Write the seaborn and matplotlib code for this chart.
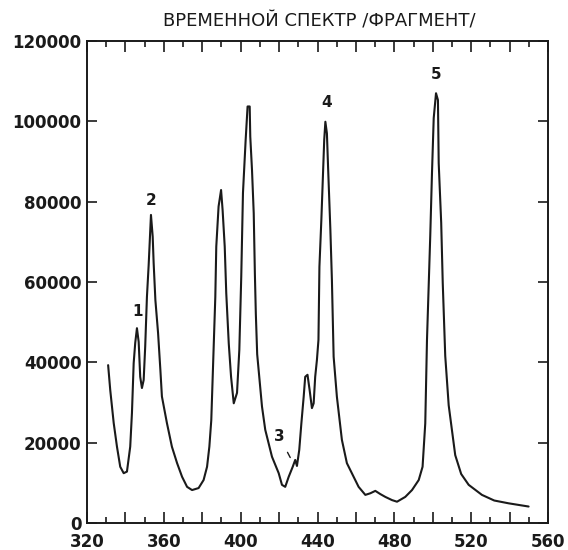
import matplotlib
matplotlib.use("Agg")
import matplotlib.pyplot as plt
from matplotlib.ticker import MultipleLocator, FuncFormatter
import seaborn as sns
import pandas as pd

# ---- data ----
wavelength = [
    331.0, 332.1, 333.9, 335.6, 337.3, 339.1, 340.8, 342.5, 343.4, 344.3,
    345.1, 346.0, 346.9, 347.7, 348.6, 349.5, 350.3, 351.2, 352.1, 353.3,
    354.2, 354.7, 355.6, 357.0, 358.2, 359.0, 361.6, 364.2, 366.9, 369.5,
    372.1, 374.7, 378.1, 380.7, 382.5, 383.7, 384.7, 385.4, 386.3, 386.8,
    387.3, 388.5, 389.8, 390.6, 391.7, 392.5, 393.8, 395.0, 396.4, 398.1,
    399.3, 400.3, 401.2, 402.2, 402.6, 403.6, 404.7, 405.0, 405.9, 406.8,
    407.4, 407.9, 408.6, 411.1, 412.8, 416.3, 419.8, 421.5, 423.2, 425.0,
    427.1, 428.4, 429.3, 430.5, 431.6, 432.8, 433.6, 434.8, 435.9, 437.1,
    438.0, 438.8, 439.7, 440.5, 441.0, 442.0, 442.7, 443.5, 444.1, 444.9,
    445.5, 446.7, 447.5, 448.4, 450.1, 452.7, 455.3, 457.9, 461.4, 464.9,
    467.5, 470.1, 472.7, 475.3, 478.8, 481.4, 485.7, 489.2, 492.7, 494.7,
    496.1, 497.0, 498.7, 499.6, 500.5, 501.7, 502.7, 503.1, 504.4, 505.2,
    506.5, 508.3, 511.7, 514.8, 518.7, 525.6, 532.0, 539.5, 549.9,
]
counts = [
    39300, 33100, 24900, 19000, 14000, 12400, 12800, 19000, 27400, 39800,
    44800, 48500, 45100, 36400, 33600, 35600, 43900, 56300, 64200, 76700,
    71300, 64700, 55500, 47300, 38100, 31500, 24900, 19000, 14900, 11500,
    9000, 8200, 8700, 10700, 14000, 19000, 25600, 35600, 48100, 56300,
    68800, 78800, 82900, 77900, 68800, 57200, 44700, 36400, 29800, 32400,
    43100, 61300, 82200, 92000, 95400, 103700, 103700, 96200, 87900, 77100,
    62000, 52000, 42000, 29000, 23200, 16500, 12400, 9500, 9000, 11500,
    14000, 15700, 14200, 18200, 24800, 31400, 36400, 36900, 33100, 28600,
    29800, 36400, 40600, 45600, 63800, 75400, 84600, 95400, 99900, 97000,
    88700, 73000, 60500, 41400, 31400, 20700, 14900, 12400, 9000, 7000,
    7400, 8000, 7200, 6500, 5700, 5300, 6500, 8200, 10700, 14000,
    24800, 45600, 71500, 87100, 100800, 107000, 105300, 89600, 74700, 59800,
    41600, 29300, 16900, 12200, 9500, 7000, 5600, 4900, 4100,
]

peak_labels = ["1", "2", "3", "4", "5"]
label_x = [346.4, 353.6, 420.1, 445.0, 501.7]
label_y = [52600, 80400, 21500, 104600, 111600]

x_ticks = [320, 360, 400, 440, 480, 520, 560]
y_ticks = [0, 20000, 40000, 60000, 80000, 100000, 120000]
title = "ВРЕМЕННОЙ СПЕКТР /ФРАГМЕНТ/"

df = pd.DataFrame({"wavelength": wavelength, "counts": counts})

sns.set_style("ticks")
plt.rcParams["font.family"] = ["DejaVu Sans"]

ink = "#1a1a1a"
fig = plt.figure(figsize=(5.68, 5.5), dpi=100)
ax = fig.add_axes([87 / 568, 27 / 550, 461 / 568, 482 / 550])

sns.lineplot(data=df, x="wavelength", y="counts", sort=False, estimator=None,
             color=ink, linewidth=1.5, ax=ax)

ax.set_xlim(320, 560)
ax.set_ylim(0, 120000)
ax.set_xlabel("")
ax.set_ylabel("")

ax.xaxis.set_major_locator(MultipleLocator(20))
ax.xaxis.set_minor_locator(MultipleLocator(10))
ax.xaxis.set_major_formatter(FuncFormatter(
    lambda v, p: f"{int(round(v))}" if int(round(v)) in x_ticks else ""))
ax.set_yticks(y_ticks)
ax.set_yticklabels([str(v) for v in y_ticks])

for s in ax.spines.values():
    s.set_visible(True)
    s.set_linewidth(1.4)
    s.set_color(ink)

ax.tick_params(axis="x", which="major", direction="in", length=8, width=1.2,
               top=True, bottom=True, pad=7, colors=ink, labelsize=12)
ax.tick_params(axis="x", which="minor", direction="in", length=4.5, width=1.2,
               top=True, bottom=True, colors=ink)
ax.tick_params(axis="y", which="major", direction="in", length=7, width=1.2,
               left=True, right=True, pad=4, colors=ink, labelsize=12)
for lab in ax.get_xticklabels() + ax.get_yticklabels():
    lab.set_fontweight("bold")

for t, lx, ly in zip(peak_labels, label_x, label_y):
    if t == "3":
        ax.annotate(t, xy=(425.8, 16300), xytext=(lx, ly), ha="center", va="center",
                    fontsize=11, fontweight="bold", color=ink,
                    arrowprops=dict(arrowstyle="-", color=ink, lw=1.0,
                                    shrinkA=4, shrinkB=0))
    else:
        ax.text(lx, ly, t, ha="center", va="center", fontsize=11,
                fontweight="bold", color=ink)

fig.text(319 / 568, 1 - 22 / 550, title, ha="center", va="center",
         fontsize=13, color=ink)

fig.savefig("out.png", dpi=100, facecolor="white")
